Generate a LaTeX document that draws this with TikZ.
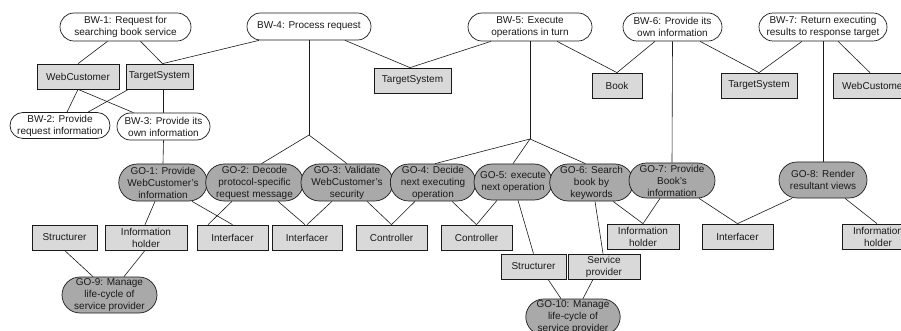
\documentclass[tikz,border=0pt]{standalone}
\usepackage{fontspec}
\setmainfont{Liberation Sans}
\usetikzlibrary{shapes.misc,calc,backgrounds}
\definecolor{gofill}{HTML}{A9A9A9}
\definecolor{boxfill}{HTML}{D9D9D9}
\definecolor{ink}{HTML}{1A1A1A}
\begin{document}
\begin{tikzpicture}[x=1pt,y=-1pt,
  every node/.style={font=\fontsize{10}{12}\selectfont, text=ink, align=center, inner sep=0pt},
  bwnode/.style={rounded rectangle, draw=ink, line width=0.7pt, fill=white, minimum height=28pt},
  gonode/.style={rounded rectangle, draw=ink, line width=0.7pt, fill=gofill, minimum height=37pt},
  rolebox/.style={rectangle, draw=ink, line width=0.7pt, fill=boxfill, minimum height=25pt},
  link/.style={draw=ink, line width=0.6pt}]
\useasboundingbox (0,0) rectangle (901,331);
% BW nodes
\node[bwnode, minimum width=131pt] (bw1) at (125.5,27) {BW-1: Request for\\searching book service};
\node[bwnode, minimum width=124pt, minimum height=27pt] (bw4) at (309,26.5) {BW-4: Process request};
\node[bwnode, minimum width=124pt] (bw5) at (530,27) {BW-5: Execute\\operations in turn};
\node[bwnode, minimum width=99pt] (bw6) at (672.5,27) {BW-6: Provide its\\own information};
\node[bwnode, minimum width=128pt] (bw7) at (823,27) {BW-7: Return executing\\results to response target};
\node[bwnode, minimum width=100pt, minimum height=26pt] (bw2) at (60,125.5) {BW-2: Provide\\request information};
\node[bwnode, minimum width=93pt, minimum height=27pt] (bw3) at (163.5,126.5) {BW-3: Provide its\\own information};
% role boxes
\node[rolebox, minimum width=82pt] (wc1) at (78,76.5) {WebCustomer};
\node[rolebox, minimum width=67pt] (ts1) at (159.5,76.5) {TargetSystem};
\node[rolebox, minimum width=77pt] (ts2) at (412.5,80.5) {TargetSystem};
\node[rolebox, minimum width=50pt] (book) at (617,85.5) {Book};
\node[rolebox, minimum width=76pt] (ts3) at (759,85.5) {TargetSystem};
\node[rolebox, minimum width=82pt] (wc2) at (874,85.5) {WebCustomer};
\node[rolebox, minimum width=65pt] (st1) at (64.5,237.5) {Structurer};
\node[rolebox, minimum width=82pt] (ih1) at (146,237.5) {Information\\holder};
\node[rolebox, minimum width=71pt] (if1) at (232.5,237.5) {Interfacer};
\node[rolebox, minimum width=70pt] (if2) at (307,237.5) {Interfacer};
\node[rolebox, minimum width=71pt] (ct1) at (391.5,237.5) {Controller};
\node[rolebox, minimum width=71pt] (ct2) at (476.5,237.5) {Controller};
\node[rolebox, minimum width=72pt] (ih2) at (643,236.5) {Information\\holder};
\node[rolebox, minimum width=71pt] (if3) at (737.5,236.5) {Interfacer};
\node[rolebox, minimum width=72pt] (ih3) at (878,236.5) {Information\\holder};
\node[rolebox, minimum width=65pt] (st2) at (533.5,266.5) {Structurer};
\node[rolebox, minimum width=72pt] (sp) at (604,266.5) {Service\\provider};
% GO nodes
\node[gonode, minimum width=88pt] (go1) at (163,182.5) {GO-1: Provide\\WebCustomer's\\information};
\node[gonode, minimum width=89pt] (go2) at (254.5,182.5) {GO-2: Decode\\protocol-specific\\request message};
\node[gonode, minimum width=88pt] (go3) at (347,182.5) {GO-3: Validate\\WebCustomer's\\security};
\node[gonode, minimum width=78pt] (go4) at (433,182.5) {GO-4: Decide\\next executing\\operation};
\node[gonode, minimum width=78pt, minimum height=36pt] (go5) at (513,182) {GO-5: execute\\next operation};
\node[gonode, minimum width=75pt] (go6) at (591.5,182.5) {GO-6: Search\\book by\\keywords};
\node[gonode, minimum width=86pt, minimum height=35pt] (go7) at (672,180.5) {GO-7: Provide\\Book's\\information};
\node[gonode, minimum width=88pt, minimum height=36pt] (go8) at (823,180) {GO-8: Render\\resultant views};
\node[gonode, minimum width=95pt, minimum height=36pt] (go9) at (109.5,295) {GO-9: Manage\\life-cycle of\\service provider};
\node[gonode, minimum width=94pt, minimum height=36pt] (go10) at (573,317) {GO-10: Manage\\life-cycle of\\service provider};
\coordinate (j1) at (309,135);
\coordinate (j2) at (530,139);
\begin{scope}[on background layer]
\draw[link] ($(bw1.south)+(-18,0)$) -- (wc1.north);
\draw[link] ($(bw1.south)+(15,0)$) -- ($(ts1.north)+(3,0)$);
\draw[link] ($(bw4.south)+(-50,0)$) -- ($(ts1.north)+(3,0)$);
\draw[link] (wc1.south) -- ($(bw2.north)+(7,0)$);
\draw[link] (wc1.south) -- ($(bw3.north)+(-30,0)$);
\draw[link] ($(ts1.south)+(-31,0)$) -- ($(bw2.north)+(28,0)$);
\draw[link] ($(ts1.south)+(4,0)$) -- (bw3.north);
\draw[link] (bw3.south) -- (go1.north);
\draw[link] ($(bw4.south)+(36,0)$) -- ($(ts2.north)+(-2.5,0)$);
\draw[link] (bw4.south) -- (j1);
\draw[link] (j1) -- ($(go2.north)+(7,0)$);
\draw[link] (j1) -- (go3.north);
\draw[link] ($(bw5.south)+(-39,0)$) -- ($(ts2.north)+(-2.5,0)$);
\draw[link] ($(bw5.south)+(27,0)$) -- (book.north);
\draw[link] (bw5.south) -- (j2);
\draw[link] (j2) -- ($(go4.north)+(2,0)$);
\draw[link] (j2) -- (go5.north);
\draw[link] (j2) -- ($(go6.north)+(-6,0)$);
\draw[link] ($(bw6.south)+(-17.5,0)$) -- (book.north);
\draw[link] ($(bw6.south)+(27.5,0)$) -- (ts3.north);
\draw[link] (bw6.south) -- (go7.north);
\draw[link] ($(bw7.south)+(-21,0)$) -- (ts3.north);
\draw[link] ($(bw7.south)+(15,0)$) -- ($(wc2.north)+(-4,0)$);
\draw[link] (bw7.south) -- (go8.north);
\draw[link] ($(go1.south)+(-8,0)$) -- ($(ih1.north)+(-1,0)$);
\draw[link] ($(go1.south)+(29,0)$) -- (if1.north);
\draw[link] ($(go2.south)+(-22.5,0)$) -- ($(if1.north)+(-24.5,0)$);
\draw[link] ($(go2.south)+(23.5,0)$) -- ($(if2.north)+(-2,0)$);
\draw[link] ($(go3.south)+(-15,0)$) -- (if2.north);
\draw[link] ($(go3.south)+(20,0)$) -- (ct1.north);
\draw[link] ($(go4.south)+(-18,0)$) -- (ct1.north);
\draw[link] ($(go4.south)+(19,0)$) -- (ct2.north);
\draw[link] ($(go5.south)+(-16,0)$) -- (ct2.north);
\draw[link] ($(go5.south)+(5,0)$) -- (st2.north);
\draw[link] ($(go6.south)+(3.5,0)$) -- ($(sp.north)+(-1,0)$);
\draw[link] ($(go6.south)+(21.5,0)$) -- (ih2.north);
\draw[link] ($(go7.south)+(-12,0)$) -- (ih2.north);
\draw[link] ($(go7.south)+(27,0)$) -- (if3.north);
\draw[link] ($(go8.south)+(-31,0)$) -- (if3.north);
\draw[link] ($(go8.south)+(22,0)$) -- ($(ih3.north)+(-1,0)$);
\draw[link] (st1.south) -- ($(go9.north)+(-16.5,0)$);
\draw[link] ($(ih1.south)+(-1,0)$) -- ($(go9.north)+(14.5,0)$);
\draw[link] ($(st2.south)+(14.5,0)$) -- ($(go10.north)+(-12,0)$);
\draw[link] ($(sp.south)+(-11,0)$) -- ($(go10.north)+(10,0)$);
\end{scope}
\end{tikzpicture}
\end{document}
